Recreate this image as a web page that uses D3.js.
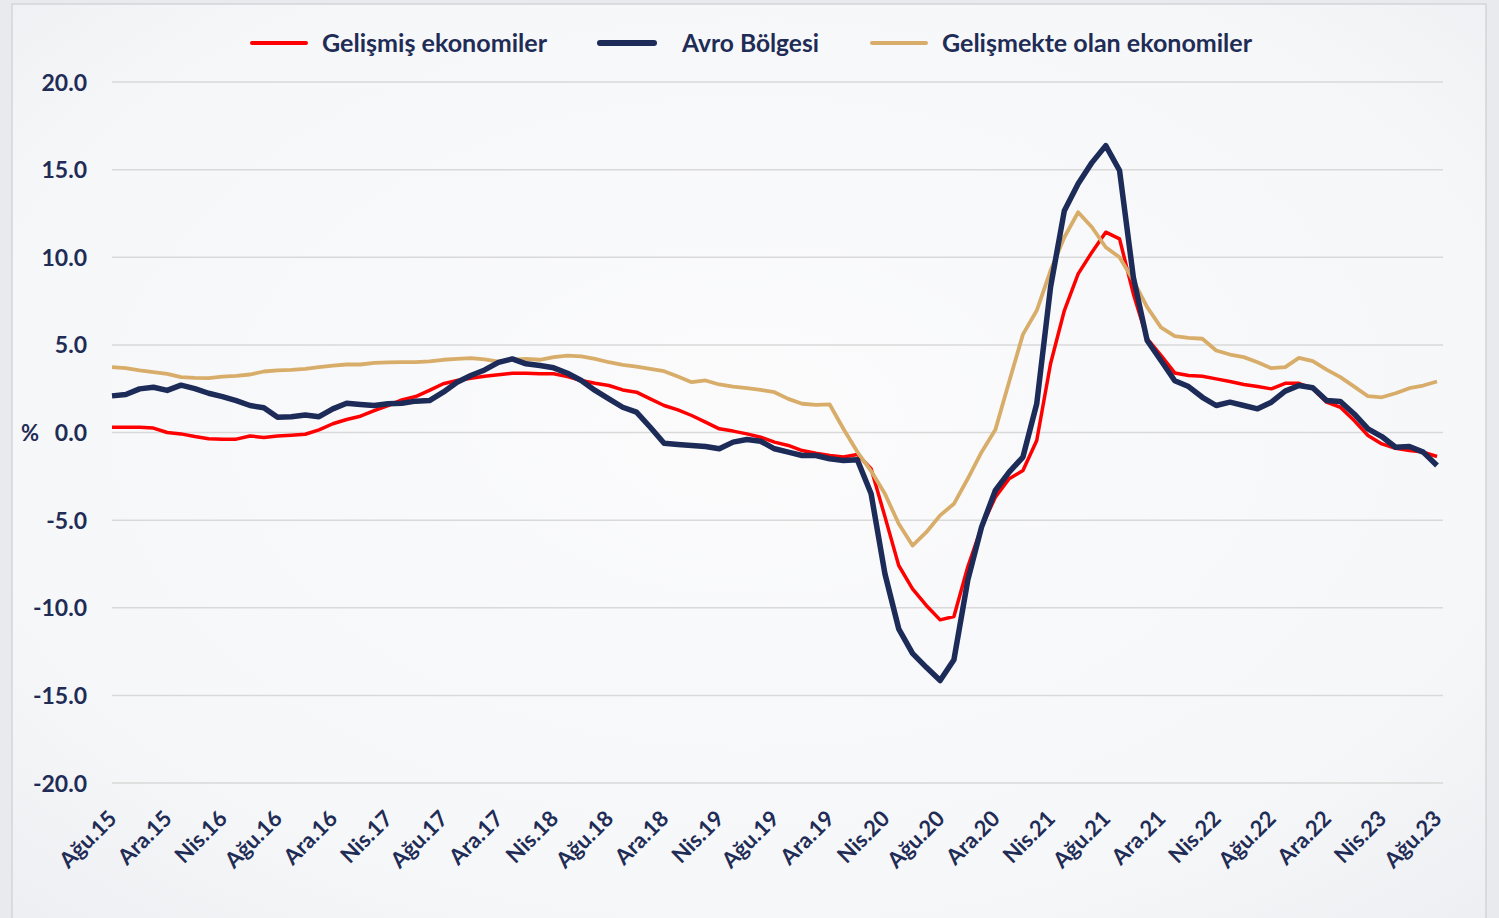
<!DOCTYPE html>
<html><head><meta charset="utf-8">
<script src="https://cdn.jsdelivr.net/npm/d3@7"></script>
<style>
html,body{margin:0;padding:0;background:#e9ebee;}
svg{display:block;font-family:Lato,"Open Sans",sans-serif;}
</style></head>
<body>
<svg id="chart" width="1499" height="918"></svg>
<script>
const categories = [
"Ağu.15","Eyl.15","Eki.15","Kas.15","Ara.15","Oca.16","Şub.16","Mar.16","Nis.16","May.16","Haz.16","Tem.16",
"Ağu.16","Eyl.16","Eki.16","Kas.16","Ara.16","Oca.17","Şub.17","Mar.17","Nis.17","May.17","Haz.17","Tem.17",
"Ağu.17","Eyl.17","Eki.17","Kas.17","Ara.17","Oca.18","Şub.18","Mar.18","Nis.18","May.18","Haz.18","Tem.18",
"Ağu.18","Eyl.18","Eki.18","Kas.18","Ara.18","Oca.19","Şub.19","Mar.19","Nis.19","May.19","Haz.19","Tem.19",
"Ağu.19","Eyl.19","Eki.19","Kas.19","Ara.19","Oca.20","Şub.20","Mar.20","Nis.20","May.20","Haz.20","Tem.20",
"Ağu.20","Eyl.20","Eki.20","Kas.20","Ara.20","Oca.21","Şub.21","Mar.21","Nis.21","May.21","Haz.21","Tem.21",
"Ağu.21","Eyl.21","Eki.21","Kas.21","Ara.21","Oca.22","Şub.22","Mar.22","Nis.22","May.22","Haz.22","Tem.22",
"Ağu.22","Eyl.22","Eki.22","Kas.22","Ara.22","Oca.23","Şub.23","Mar.23","Nis.23","May.23","Haz.23","Tem.23",
"Ağu.23"];

const tickLabels = ["Ağu.15","Ara.15","Nis.16","Ağu.16","Ara.16","Nis.17","Ağu.17","Ara.17","Nis.18","Ağu.18",
"Ara.18","Nis.19","Ağu.19","Ara.19","Nis.20","Ağu.20","Ara.20","Nis.21","Ağu.21","Ara.21","Nis.22","Ağu.22",
"Ara.22","Nis.23","Ağu.23"];

const yTicks = [20, 15, 10, 5, 0, -5, -10, -15, -20];

const seriesNames = ["Gelişmiş ekonomiler", "Avro Bölgesi", "Gelişmekte olan ekonomiler"];

const gelismis = [
0.3,0.3,0.3,0.25,0.0,-0.08,-0.23,-0.36,-0.38,-0.38,-0.2,-0.28,
-0.2,-0.15,-0.1,0.15,0.5,0.74,0.93,1.25,1.54,1.86,2.05,2.4,
2.78,2.97,3.1,3.21,3.3,3.38,3.38,3.35,3.35,3.19,2.97,2.81,
2.68,2.43,2.3,1.92,1.54,1.29,0.97,0.59,0.21,0.08,-0.08,-0.27,
-0.55,-0.74,-1.03,-1.18,-1.31,-1.4,-1.25,-2.07,-4.8,-7.59,-8.92,-9.87,
-10.69,-10.5,-7.68,-5.4,-3.69,-2.64,-2.17,-0.46,3.92,6.96,9.05,10.29,
11.43,11.05,7.91,5.35,4.4,3.4,3.25,3.21,3.06,2.91,2.74,2.62,
2.49,2.81,2.81,2.49,1.73,1.44,0.68,-0.17,-0.65,-0.9,-1.03,-1.12,
-1.37];

const avro = [
2.09,2.17,2.49,2.58,2.4,2.7,2.5,2.24,2.05,1.82,1.54,1.41,
0.87,0.9,1.0,0.9,1.35,1.67,1.6,1.54,1.64,1.67,1.79,1.82,
2.3,2.87,3.25,3.57,4.0,4.2,3.92,3.82,3.69,3.38,2.97,2.4,
1.92,1.44,1.16,0.3,-0.61,-0.68,-0.74,-0.8,-0.93,-0.55,-0.4,-0.5,
-0.93,-1.12,-1.31,-1.31,-1.5,-1.6,-1.56,-3.5,-8.06,-11.2,-12.6,-13.4,
-14.15,-12.97,-8.44,-5.4,-3.31,-2.26,-1.4,1.64,8.29,12.66,14.19,15.4,
16.37,14.95,8.86,5.25,4.11,2.95,2.62,2.01,1.54,1.73,1.54,1.35,
1.73,2.36,2.68,2.55,1.82,1.77,1.06,0.21,-0.23,-0.84,-0.8,-1.12,
-1.88];

const gelismekte = [
3.73,3.67,3.54,3.44,3.35,3.16,3.12,3.1,3.19,3.23,3.31,3.48,
3.54,3.57,3.63,3.73,3.82,3.88,3.88,3.97,4.0,4.02,4.02,4.06,
4.15,4.2,4.24,4.17,4.05,4.15,4.2,4.15,4.3,4.39,4.34,4.2,
4.01,3.86,3.76,3.63,3.5,3.19,2.87,2.97,2.74,2.62,2.53,2.43,
2.3,1.92,1.64,1.58,1.6,0.2,-1.1,-2.2,-3.5,-5.21,-6.45,-5.69,
-4.73,-4.07,-2.64,-1.12,0.15,2.9,5.6,6.96,9.24,11.14,12.57,11.71,
10.57,10.0,8.67,7.15,6.0,5.5,5.4,5.35,4.68,4.45,4.3,4.01,
3.67,3.73,4.26,4.07,3.59,3.16,2.62,2.07,2.01,2.24,2.53,2.68,
2.91];

const colors = ["#ff0000", "#1c2b58", "#d8ad6a"];
const widths = [3.5, 5.5, 3.8];
const textColor = "#1f2c56";

const svg = d3.select("#chart");
const W = 1499, H = 918;

// background panel
const defs = svg.append("defs");
const rg = defs.append("radialGradient").attr("id","bg").attr("cx","50%").attr("cy","45%").attr("r","75%");
rg.append("stop").attr("offset","0%").attr("stop-color","#fbfbfc");
rg.append("stop").attr("offset","70%").attr("stop-color","#f6f7f9");
rg.append("stop").attr("offset","100%").attr("stop-color","#eceef1");
svg.append("rect").attr("x",0).attr("y",0).attr("width",W).attr("height",H).attr("fill","#e8eaed");
svg.append("rect").attr("x",12).attr("y",4).attr("width",1474).attr("height",930)
  .attr("fill","url(#bg)").attr("stroke","#d3d5d9").attr("stroke-width",1.5);

const x = d3.scalePoint().domain(categories).range([112, 1437]);
const y = d3.scaleLinear().domain([-20, 20]).range([783, 82]);

// gridlines
svg.append("g").selectAll("line").data(yTicks).join("line")
  .attr("x1", 112).attr("x2", 1443)
  .attr("y1", d => y(d)).attr("y2", d => y(d))
  .attr("stroke", "#d9d9d9").attr("stroke-width", 1.5);

// y axis labels
const fmt = d => d3.format(".1f")(d).replace("\u2212", "-");
const yAxis = d3.axisLeft(y).tickValues(yTicks).tickFormat(fmt).tickSize(0).tickPadding(0);
const yg = svg.append("g").attr("transform","translate(87,0)").call(yAxis);
yg.select(".domain").remove();
yg.selectAll("text").attr("fill", textColor).attr("font-size", 23).attr("font-weight", 700)
  .attr("font-family","Lato, sans-serif").attr("dy","0.35em");

svg.append("text").attr("x", 30).attr("y", y(0)).attr("dy","0.38em").attr("text-anchor","middle")
  .attr("fill", textColor).attr("font-size", 22).attr("font-weight", 700).text("%");

// x axis labels
const xAxis = d3.axisBottom(x).tickValues(tickLabels).tickSize(0).tickPadding(0);
const xg = svg.append("g").call(xAxis);
xg.select(".domain").remove();
xg.selectAll(".tick").attr("transform", d => `translate(${x(d)+6},820)`);
xg.selectAll("text").attr("fill", textColor).attr("font-size", 22).attr("font-weight", 700)
  .attr("font-family","Lato, sans-serif")
  .attr("text-anchor","end").attr("x",0).attr("y",0).attr("dy","0")
  .attr("transform","rotate(-45)");

// lines
const seriesList = [gelismis, avro, gelismekte];
const drawOrder = [0, 2, 1];
const line = d3.line().x((d,i) => x(categories[i])).y(d => y(d)).curve(d3.curveLinear);
svg.append("g").selectAll("path").data(drawOrder).join("path")
  .attr("d", k => line(seriesList[k]))
  .attr("fill","none").attr("stroke", k => colors[k]).attr("stroke-width", k => widths[k])
  .attr("stroke-linejoin","round").attr("stroke-linecap","butt");

// legend
const legendItems = [
  {name: seriesNames[0], lx: 252, tx: 322, tw: 225, k: 0},
  {name: seriesNames[1], lx: 600, tx: 682, tw: 137, k: 1},
  {name: seriesNames[2], lx: 872, tx: 942, tw: 310, k: 2}
];
const lg = svg.append("g");
lg.selectAll("line").data(legendItems).join("line")
  .attr("x1", d => d.lx).attr("x2", d => d.lx + 54).attr("y1", 43).attr("y2", 43)
  .attr("stroke", d => colors[d.k]).attr("stroke-width", d => d.k === 1 ? 6 : 4)
  .attr("stroke-linecap","round");
lg.selectAll("text").data(legendItems).join("text")
  .attr("x", d => d.tx).attr("y", 43).attr("dy","0.36em")
  .attr("fill", textColor).attr("font-size", 24).attr("font-weight", 700)
  .attr("textLength", d => d.tw).attr("lengthAdjust", "spacingAndGlyphs")
  .text(d => d.name);
</script>
</body></html>
